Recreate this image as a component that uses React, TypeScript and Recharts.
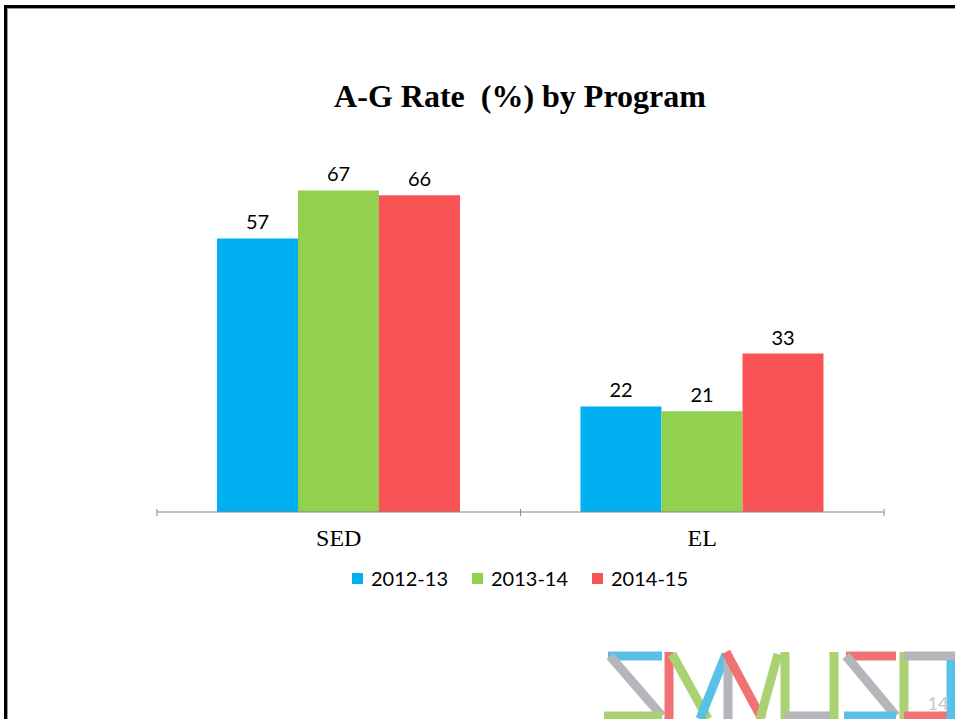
import React from "react";
import { BarChart, Bar, XAxis, YAxis, LabelList } from "recharts";

const programs = ["SED", "EL"];
const years = ["2012-13", "2013-14", "2014-15"];
const rate201213 = [57, 22];
const rate201314 = [67, 21];
const rate201415 = [66, 33];
const colors = ["#00B0F0", "#92D050", "#F95355"];

const data = programs.map((p, i) => ({
  program: p,
  "2012-13": rate201213[i],
  "2013-14": rate201314[i],
  "2014-15": rate201415[i],
}));

const CategoryTick = (props: any) => {
  const { x, y, payload, width, visibleTicksCount } = props;
  const band = width / visibleTicksCount;
  return (
    <g>
      <line x1={x - band / 2} y1={y - 11} x2={x - band / 2} y2={y - 4} stroke="#868686" />
      <line x1={x + band / 2} y1={y - 11} x2={x + band / 2} y2={y - 4} stroke="#868686" />
      <text x={x} y={y + 26} textAnchor="middle" fontFamily="'Liberation Serif', 'Times New Roman', serif" fontSize={24} fill="#000">
        {payload.value}
      </text>
    </g>
  );
};

const LegendRow = () => (
  <div style={{ position: "absolute", left: 0, top: 566, width: 1040, display: "flex", justifyContent: "center", gap: 24, fontFamily: "Lato, 'Noto Sans', sans-serif", fontSize: 20, color: "#000" }}>
    {years.map((y, i) => (
      <div key={y} style={{ display: "flex", alignItems: "center", gap: 8 }}>
        <span style={{ width: 11, height: 11, background: colors[i], display: "inline-block" }} />
        <span>{y}</span>
      </div>
    ))}
  </div>
);

// rough copy of the district logo in the corner
const Logo = () => (
  <svg width={955} height={719} style={{ position: "absolute", left: 0, top: 0, pointerEvents: "none" }}>
    <g strokeWidth={9} fill="none" opacity={0.85} strokeLinecap="butt">
      {/* S */}
      <line x1={608} y1={656} x2={662} y2={656} stroke="#3DB7E4" />
      <line x1={610} y1={656} x2={662} y2={716} stroke="#A9A9B0" />
      <line x1={604} y1={716} x2={662} y2={716} stroke="#9CCB5A" />
      {/* M */}
      <line x1={669} y1={652} x2={669} y2={719} stroke="#EE5A5E" />
      <line x1={672} y1={654} x2={708} y2={719} stroke="#9CCB5A" />
      <line x1={700} y1={719} x2={726} y2={654} stroke="#3DB7E4" />
      <line x1={728} y1={654} x2={728} y2={719} stroke="#A9A9B0" />
      <line x1={726} y1={652} x2={762} y2={719} stroke="#EE5A5E" />
      <line x1={760} y1={719} x2={778} y2={654} stroke="#9CCB5A" />
      {/* U */}
      <line x1={785} y1={652} x2={785} y2={719} stroke="#9CCB5A" />
      <line x1={785} y1={716} x2={830} y2={716} stroke="#A9A9B0" />
      <line x1={834} y1={652} x2={834} y2={719} stroke="#9CCB5A" />
      {/* S */}
      <line x1={846} y1={656} x2={896} y2={656} stroke="#EE5A5E" />
      <line x1={846} y1={656} x2={896} y2={716} stroke="#A9A9B0" />
      <line x1={844} y1={716} x2={896} y2={716} stroke="#3DB7E4" />
      {/* D */}
      <line x1={904} y1={652} x2={904} y2={719} stroke="#9CCB5A" />
      <line x1={904} y1={656} x2={955} y2={656} stroke="#A9A9B0" />
      <line x1={904} y1={716} x2={955} y2={716} stroke="#EE5A5E" />
      <line x1={951} y1={660} x2={951} y2={719} stroke="#3DB7E4" />
    </g>
    <text x={938} y={710} textAnchor="middle" fontFamily="Lato, sans-serif" fontSize={18} fill="#C8C8C8">14</text>
  </svg>
);

export default function App() {
  return (
    <div style={{ position: "absolute", left: 0, top: 0, width: 955, height: 719, background: "#fff", overflow: "hidden" }}>
      <div style={{ position: "absolute", left: 4, top: 5, width: 980, height: 740, borderTop: "3px solid #000", borderLeft: "3px solid #000", boxShadow: "inset 1px 1px 0 #9a9a9a" }} />
      <div style={{ position: "absolute", left: 0, top: 78, width: 1040, textAlign: "center", fontFamily: "'Liberation Serif', 'Times New Roman', serif", fontWeight: "bold", fontSize: 32, color: "#000" }}>
        A-G Rate&nbsp; (%) by Program
      </div>
      <div style={{ position: "absolute", left: 0, top: 0 }}>
        <BarChart
          width={955}
          height={719}
          data={data}
          margin={{ top: 128, right: 71, bottom: 147, left: 157 }}
          barCategoryGap="16.5%"
          barGap={0}
        >
          <XAxis dataKey="program" axisLine={{ stroke: "#868686" }} tickLine={false} tick={<CategoryTick />} interval={0} height={60} />
          <YAxis hide domain={[0, 80]} />
          {years.map((y, i) => (
            <Bar key={y} dataKey={y} fill={colors[i]} isAnimationActive={false}>
              <LabelList dataKey={y} position="top" offset={9} fill="#000" fontSize={20} fontFamily="Lato, 'Noto Sans', sans-serif" />
            </Bar>
          ))}
        </BarChart>
      </div>
      <LegendRow />
      <Logo />
    </div>
  );
}
